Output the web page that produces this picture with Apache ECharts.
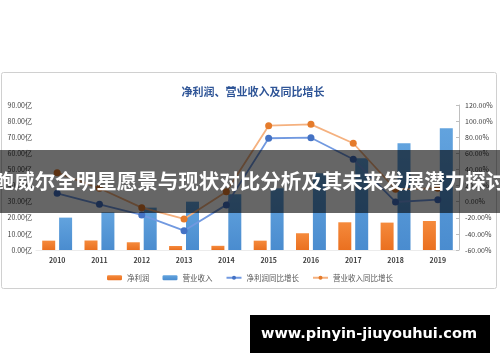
<!DOCTYPE html>
<html>
<head>
<meta charset="utf-8">
<script src="https://cdn.jsdelivr.net/npm/echarts@6/dist/echarts.min.js"></script>
<style>
html,body{margin:0;padding:0;background:#fff;}
#c{width:500px;height:362px;}
</style>
</head>
<body>
<div id="c"></div>
<script>
const years = ['2010','2011','2012','2013','2014','2015','2016','2017','2018','2019'];
const netProfit = [5.8, 5.9, 4.8, 2.5, 2.6, 5.8, 10.4, 17.2, 17.0, 18.0];
const revenue = [20.1, 23.4, 26.3, 30.0, 34.6, 38.3, 47.6, 57.0, 66.3, 75.6];
const netProfitYoY = [10.4, -3.3, -16.5, -36.0, -4.0, 78.7, 79.4, 52.6, -0.4, 2.5];
const revenueYoY = [36.0, 16.6, -7.4, -21.5, 12.4, 94.3, 96.0, 72.5, 15.4, 16.6];
const leftTicks = {min: 0, max: 90, interval: 10};
const rightTicks = {min: -60, max: 120, interval: 20};
const titleText = '净利润、营业收入及同比增长';
const seriesNames = ['净利润', '营业收入', '净利润同比增长', '营业收入同比增长'];
const bannerText = '鲍威尔全明星愿景与现状对比分析及其未来发展潜力探讨';
const watermarkText = 'www.pinyin-jiuyouhui.com';

const chart = echarts.init(document.getElementById('c'), null, {renderer: 'canvas'});
const font = '"Noto Sans CJK SC", "Noto Sans", sans-serif';
const option = {
  animation: false,
  backgroundColor: '#fff',
  textStyle: {fontFamily: font},
  title: {
    text: titleText,
    left: 248, top: 81, textAlign: 'center',
    textStyle: {fontSize: 11, fontWeight: 'bold', color: '#2f5597', fontFamily: font}
  },
  legend: {
    top: 269, left: 'center',
    itemWidth: 15, itemHeight: 5, itemGap: 13,
    textStyle: {fontSize: 7.5, color: '#595959', fontFamily: font},
    data: seriesNames
  },
  grid: {left: 36, right: 41, top: 105, bottom: 112, containLabel: false},
  xAxis: {
    type: 'category', data: years,
    axisLine: {show: true, lineStyle: {color: '#ececec'}},
    axisTick: {show: false},
    axisLabel: {fontSize: 7, fontWeight: 'bold', color: '#404040', margin: 7}
  },
  yAxis: [
    {
      type: 'value', min: leftTicks.min, max: leftTicks.max, interval: leftTicks.interval,
      axisLine: {show: false}, axisTick: {show: false}, splitLine: {show: false},
      axisLabel: {fontSize: 7, color: '#404040', margin: 4,
        formatter: v => v.toFixed(2) + '亿'}
    },
    {
      type: 'value', min: rightTicks.min, max: rightTicks.max, interval: rightTicks.interval,
      position: 'right',
      axisLine: {show: true, lineStyle: {color: '#bfbfbf'}},
      axisTick: {show: true, inside: true, length: 3, lineStyle: {color: '#bfbfbf'}},
      splitLine: {show: false},
      axisLabel: {fontSize: 7, color: '#404040', margin: 6,
        formatter: v => v.toFixed(2) + '%'}
    }
  ],
  series: [
    {
      name: seriesNames[0], type: 'bar', data: netProfit, yAxisIndex: 0,
      barWidth: 13, barGap: '30%',
      itemStyle: {color: new echarts.graphic.LinearGradient(0,0,0,1,[{offset:0,color:'#f58a3c'},{offset:1,color:'#ea7020'}])}
    },
    {
      name: seriesNames[1], type: 'bar', data: revenue, yAxisIndex: 0,
      barWidth: 13, barGap: '30%',
      itemStyle: {color: new echarts.graphic.LinearGradient(0,0,0,1,[{offset:0,color:'#62a3de'},{offset:1,color:'#4a8ccf'}])}
    },
    {
      name: seriesNames[2], type: 'line', data: netProfitYoY, yAxisIndex: 1,
      symbol: 'circle', symbolSize: 7,
      lineStyle: {color: '#7199e0', width: 1.8},
      itemStyle: {color: '#4472c4'}
    },
    {
      name: seriesNames[3], type: 'line', data: revenueYoY, yAxisIndex: 1,
      symbol: 'circle', symbolSize: 7,
      lineStyle: {color: '#f5b17f', width: 1.8},
      itemStyle: {color: '#e57b2b'}
    }
  ],
  graphic: [
    {type: 'rect', z: -10, silent: true,
      shape: {x: 1.5, y: 72.5, width: 495, height: 216, r: 2},
      style: {fill: 'none', stroke: '#d0d0d0', lineWidth: 1}},
    {type: 'rect', z: 100, silent: true,
      shape: {x: 0, y: 150, width: 500, height: 63},
      style: {fill: 'rgba(0,0,0,0.6)'}},
    {type: 'text', z: 101, silent: true, x: 250, y: 181,
      style: {text: bannerText, fill: '#fff', font: 'bold 20.5px "Noto Sans CJK SC", sans-serif',
        textAlign: 'center', textVerticalAlign: 'middle'}},
    {type: 'rect', z: 100, silent: true,
      shape: {x: 250, y: 315, width: 240, height: 38},
      style: {fill: '#000'}},
    {type: 'text', z: 101, silent: true, x: 369, y: 334,
      style: {text: watermarkText, fill: '#fff', font: 'bold 14.5px "DejaVu Sans", sans-serif',
        textAlign: 'center', textVerticalAlign: 'middle'}}
  ]
};
chart.setOption(option);
</script>
</body>
</html>
